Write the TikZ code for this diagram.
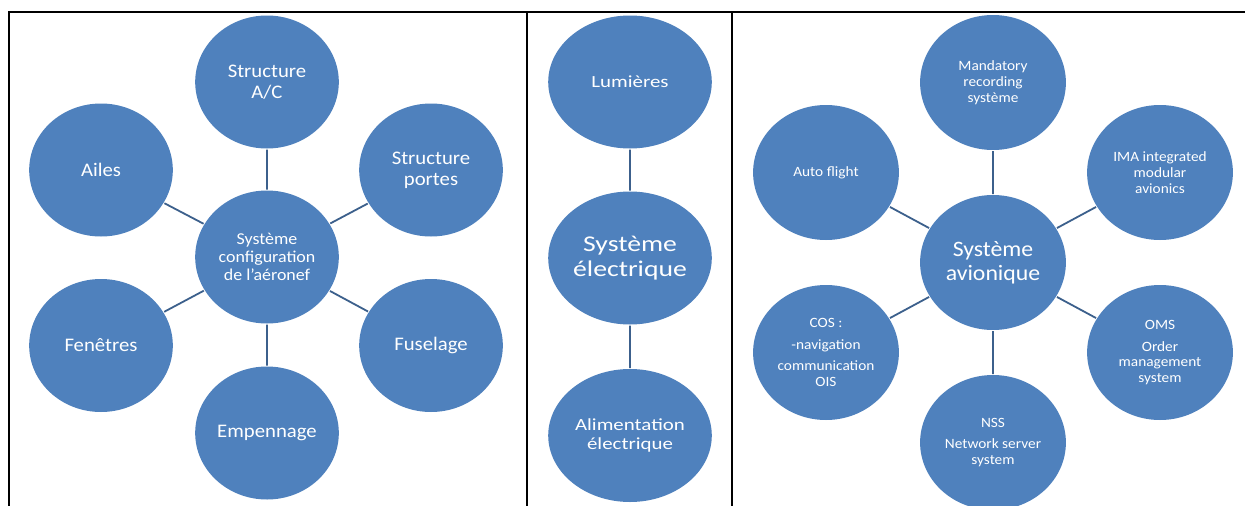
\documentclass[tikz,border=0pt]{standalone}
\usepackage{fontspec}
\setmainfont{Carlito}
\usepackage{tikz}
\usetikzlibrary{positioning}
\definecolor{bubblefill}{RGB}{79,129,189}
\definecolor{linkcolor}{RGB}{60,96,140}

\begin{document}
\begin{tikzpicture}[
    x=1pt, y=-1pt,
    every node/.style={
        circle, fill=bubblefill,
        text=white,
        inner sep=0pt, outer sep=1pt,
        align=center
    },
    side/.style={minimum size=133pt, xscale=1.08},
    mid/.style={minimum size=133pt, xscale=1.23},
    avio/.style={minimum size=135pt, xscale=1.08},
    link/.style={draw=linkcolor, line width=1.8pt},
    frame/.style={line width=2pt}
]
\useasboundingbox (0,0) rectangle (1245,506);
\fill[white] (0,0) rectangle (1245,506);

% configuration
\node[side, font=\fontsize{16.6}{18.3}\selectfont] (conf) at (267,257)
    {Système\\configuration\\de l’aéronef};
\node[side, font=\fontsize{19.2}{21}\selectfont] (structac) at (267,82) {Structure\\A/C};
\node[side, font=\fontsize{19.2}{21}\selectfont] (ailes) at (101,170) {Ailes};
\node[side, font=\fontsize{19.2}{21}\selectfont] (portes) at (431,170) {Structure\\portes};
\node[side, font=\fontsize{19.2}{21}\selectfont] (fenetres) at (101,345.5) {Fenêtres};
\node[side, font=\fontsize{19.2}{21}\selectfont] (fuselage) at (431,345.5) {Fuselage};
\node[side, font=\fontsize{19.2}{21}\selectfont] (empennage) at (267,433) {Empennage};
\draw[link] (conf) -- (structac);
\draw[link] (conf) -- (ailes);
\draw[link] (conf) -- (portes);
\draw[link] (conf) -- (fenetres);
\draw[link] (conf) -- (fuselage);
\draw[link] (conf) -- (empennage);

% electrique
\node[mid, font=\fontsize{22.5}{25}\selectfont] (elec) at (630,258) {Système\\électrique};
\node[mid, font=\fontsize{17}{18.5}\selectfont] (lumieres) at (630,82) {Lumières};
\node[mid, font=\fontsize{17}{18.5}\selectfont] (alim) at (630,435.5) {Alimentation\\électrique};
\draw[link] (elec) -- (lumieres);
\draw[link] (elec) -- (alim);

% avionique
\node[avio, font=\fontsize{22}{24}\selectfont] (avio) at (993,262.5) {Système\\avionique};
\node[avio, font=\fontsize{14.2}{15.8}\selectfont] (mandatory) at (993,82.5)
    {Mandatory\\recording\\système};
\node[avio, font=\fontsize{14.2}{15.8}\selectfont] (autoflight) at (826,172.5) {Auto flight};
\node[avio, font=\fontsize{14.2}{15.8}\selectfont] (ima) at (1160,172.5)
    {IMA integrated\\modular\\avionics};
\node[avio, font=\fontsize{14.2}{15.8}\selectfont] (cos) at (826,352.5)
    {COS :\\[6pt]-navigation\\[6pt]communication\\OIS};
\node[avio, font=\fontsize{14.2}{15.8}\selectfont] (oms) at (1160,352.5)
    {OMS\\[6pt]Order\\management\\system};
\node[avio, font=\fontsize{14.2}{15.8}\selectfont] (nss) at (993,442.5)
    {NSS\\[6pt]Network server\\system};
\draw[link] (avio) -- (mandatory);
\draw[link] (avio) -- (autoflight);
\draw[link] (avio) -- (ima);
\draw[link] (avio) -- (cos);
\draw[link] (avio) -- (oms);
\draw[link] (avio) -- (nss);

% cadre
\draw[frame] (9,506) -- (9,12) -- (1245,12);
\draw[frame] (526.5,12) -- (526.5,506);
\draw[frame] (732,12) -- (732,506);
\end{tikzpicture}
\end{document}
